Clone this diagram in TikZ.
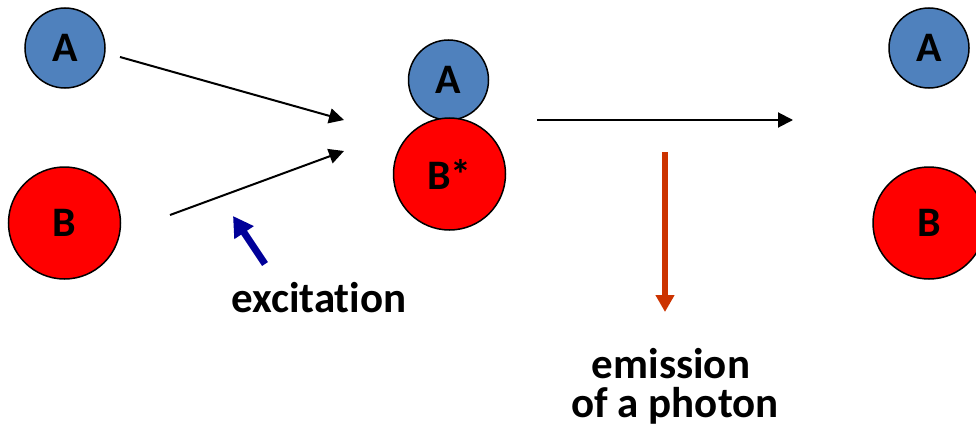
\documentclass[tikz,border=0pt]{standalone}
\usepackage{fontspec}
\setmainfont{Carlito}[RawFeature={-liga}]
\usetikzlibrary{arrows.meta}
\definecolor{ablue}{RGB}{79,129,189}
\definecolor{bred}{RGB}{255,0,0}
\definecolor{emitc}{RGB}{204,51,0}
\definecolor{excc}{RGB}{0,0,153}
\tikzset{
  molA/.style={circle,draw=black,line width=1.5pt,fill=ablue,minimum size=80pt,inner sep=0pt,font=\fontsize{42}{46}\selectfont\bfseries},
  molB/.style={circle,draw=black,line width=1.5pt,fill=bred,minimum size=112pt,inner sep=0pt,font=\fontsize{42}{46}\selectfont\bfseries},
  flow/.style={draw=black,line width=2pt,-{Triangle[length=15pt,width=15pt]}},
  lbl/.style={anchor=base,inner sep=0pt,font=\fontsize{43}{46}\selectfont\bfseries}
}
\begin{document}
\begin{tikzpicture}[x=1pt,y=-1pt]
\useasboundingbox (0,0) rectangle (976,436);
% left pair
\node[molA] (A1) at (65,48) {A};
\node[molB] (B1) at (64.5,223) {B};
% middle complex
\node[molA] (A2) at (448.5,80) {A};
\node[molB] (B2) at (449.5,174) {B*};
% right pair
\node[molA] (A3) at (929,48) {A};
\node[molB] (B3) at (929,223) {B};
% connector ends
\coordinate (s1) at (120,57);
\coordinate (e1) at (344,120);
\coordinate (s2) at (170,215);
\coordinate (e2) at (344,151);
\coordinate (s3) at (537,120);
\coordinate (e3) at (793,120);
\coordinate (s4) at (665,152);
\coordinate (e4) at (665,312);
\coordinate (s5) at (265,264);
\coordinate (e5) at (233,216);
\draw[flow] (s1) -- (e1);
\draw[flow] (s2) -- (e2);
\draw[flow] (s3) -- (e3);
\draw[draw=emitc,line width=6pt,-{Triangle[length=17pt,width=18pt]}] (s4) -- (e4);
\draw[draw=excc,line width=7pt,-{Triangle[length=20pt,width=22pt]}] (s5) -- (e5);
% labels
\node[lbl] (exc) at (319,312) {excitation};
\node[lbl] (em1) at (671,378) {emission};
\node[lbl] (em2) at (675,417) {of a photon};
\end{tikzpicture}
\end{document}
